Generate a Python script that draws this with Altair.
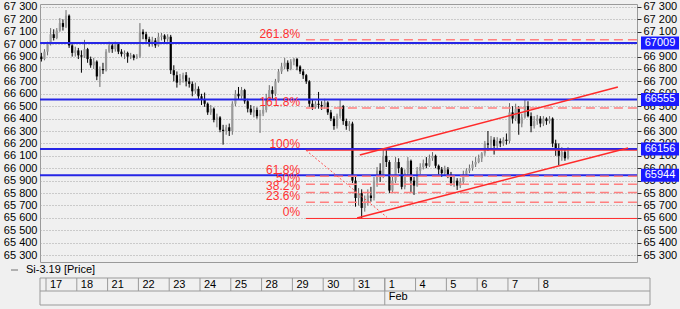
import altair as alt
import pandas as pd

# ---------------- data ----------------
day_labels = ["17", "18", "21", "22", "23", "24", "25", "28", "29", "30", "31",
              "1", "4", "5", "6", "7", "8"]
month_label = "Feb"
month_start_day = 11
bars_per_day = 10
pre_slots = [-0.15, -0.05]

open_ = [
    66900, 66880,
    66940, 67000, 67080, 67050, 67110, 67170, 67140, 67230, 66990, 66930,
    66950, 66910, 66900, 66960, 66880, 66830, 66860, 66740, 66800, 66790,
    66940, 66990, 66960, 67000, 66940, 66920, 66930, 66900, 66910, 66890,
    66900, 67100, 67080, 67040, 67010, 67030, 66990, 67060, 67070, 67040,
    67060, 66790, 66750, 66690, 66720, 66750, 66700, 66680, 66620, 66640,
    66580, 66550, 66520, 66450, 66480, 66390, 66410, 66310, 66300, 66330,
    66300, 66520, 66600, 66580, 66630, 66540, 66480, 66450, 66470, 66420,
    66440, 66470, 66560, 66630, 66600, 66700, 66780, 66820, 66850, 66800,
    66860, 66880, 66820, 66780, 66750, 66700, 66520, 66490, 66520, 66510,
    66500, 66530, 66450, 66400, 66340, 66420, 66500, 66380, 66340, 66360,
    65900, 65760, 65800, 65680, 65720, 65780, 65760, 65900, 65980, 65930,
    66100, 66050, 65820, 65900, 66050, 66000, 65850, 65960, 66060, 65900,
    65860, 65980, 66010, 66040, 66020, 66080, 66100, 66020, 65990, 65960,
    65990, 65950, 65880, 65900, 65860, 65890, 65950, 65980, 66000, 66030,
    66050, 66080, 66120, 66200, 66190, 66230, 66180, 66220, 66200, 66230,
    66220, 66450, 66400, 66480, 66360, 66410, 66500, 66420, 66340, 66380,
    66400, 66360, 66400, 66380, 66400, 66200, 66150, 66100, 66130, 66080,
]
close = [
    66880, 66940,
    67000, 67080, 67050, 67110, 67170, 67140, 67230, 66990, 66930, 66950,
    66910, 66900, 66960, 66880, 66830, 66860, 66740, 66800, 66790, 66940,
    66990, 66960, 67000, 66940, 66920, 66930, 66900, 66910, 66890, 66900,
    67100, 67080, 67040, 67010, 67030, 66990, 67060, 67070, 67040, 67060,
    66790, 66750, 66690, 66720, 66750, 66700, 66680, 66620, 66640, 66580,
    66550, 66520, 66450, 66480, 66390, 66410, 66310, 66300, 66330, 66300,
    66520, 66600, 66580, 66630, 66540, 66480, 66450, 66470, 66420, 66440,
    66470, 66560, 66630, 66600, 66700, 66780, 66820, 66850, 66800, 66860,
    66880, 66820, 66780, 66750, 66700, 66520, 66490, 66520, 66510, 66500,
    66530, 66450, 66400, 66340, 66420, 66500, 66380, 66340, 66360, 65900,
    65760, 65800, 65680, 65720, 65780, 65760, 65900, 65980, 65930, 66100,
    66050, 65820, 65900, 66050, 66000, 65850, 65960, 66060, 65900, 65860,
    65980, 66010, 66040, 66020, 66080, 66100, 66020, 65990, 65960, 65990,
    65950, 65880, 65900, 65860, 65890, 65950, 65980, 66000, 66030, 66050,
    66080, 66120, 66200, 66190, 66230, 66180, 66220, 66200, 66230, 66220,
    66450, 66400, 66480, 66360, 66410, 66500, 66420, 66340, 66380, 66400,
    66360, 66400, 66380, 66400, 66200, 66150, 66100, 66130, 66080, 66140,
]
high = [
    66930, 66960,
    67020, 67130, 67120, 67130, 67210, 67200, 67275, 67240, 67000, 66980,
    66970, 66950, 67035, 66970, 66900, 66890, 66870, 66820, 66850, 66960,
    67020, 67010, 67020, 67010, 66960, 66950, 66940, 66930, 66920, 66920,
    67170, 67120, 67100, 67060, 67060, 67050, 67090, 67090, 67080, 67080,
    67075, 66830, 66780, 66760, 66770, 66775, 66730, 66700, 66690, 66660,
    66600, 66610, 66530, 66510, 66490, 66440, 66420, 66350, 66350, 66360,
    66540, 66630, 66655, 66655, 66640, 66560, 66510, 66500, 66490, 66470,
    66500, 66600, 66670, 66660, 66720, 66800, 66850, 66890, 66870, 66880,
    66890, 66890, 66830, 66800, 66760, 66710, 66550, 66540, 66615, 66540,
    66560, 66540, 66470, 66420, 66440, 66550, 66510, 66400, 66380, 66375,
    65930, 65840, 65830, 65780, 65830, 65850, 65930, 66010, 66040, 66155,
    66150, 66065, 65940, 66090, 66080, 66010, 65990, 66090, 66070, 65930,
    66010, 66040, 66070, 66090, 66110, 66130, 66110, 66030, 66010, 66020,
    66010, 65970, 65940, 65920, 65920, 65980, 66000, 66030, 66060, 66090,
    66110, 66130, 66220, 66300, 66260, 66250, 66250, 66240, 66250, 66280,
    66525, 66500, 66520, 66500, 66440, 66550, 66540, 66450, 66420, 66430,
    66420, 66420, 66410, 66420, 66410, 66230, 66200, 66170, 66150, 66170,
]
low = [
    66860, 66870,
    66910, 66990, 67030, 67040, 67100, 67110, 67130, 66970, 66900, 66900,
    66880, 66770, 66890, 66850, 66810, 66800, 66710, 66655, 66760, 66780,
    66930, 66930, 66940, 66920, 66900, 66880, 66850, 66880, 66870, 66880,
    66890, 67040, 67020, 66980, 66980, 66970, 66980, 67030, 67010, 67020,
    66760, 66700, 66650, 66670, 66690, 66660, 66650, 66580, 66600, 66550,
    66510, 66495, 66430, 66430, 66370, 66330, 66290, 66190, 66270, 66260,
    66270, 66500, 66550, 66560, 66520, 66450, 66430, 66410, 66400, 66285,
    66420, 66450, 66540, 66560, 66580, 66690, 66760, 66800, 66780, 66790,
    66830, 66790, 66760, 66720, 66680, 66495, 66470, 66480, 66480, 66470,
    66480, 66430, 66380, 66310, 66320, 66400, 66350, 66310, 66300, 65880,
    65690, 65700, 65595, 65650, 65700, 65730, 65740, 65850, 65890, 65920,
    66010, 65800, 65800, 65880, 65960, 65830, 65830, 65940, 65800, 65785,
    65850, 65950, 65990, 66000, 66010, 66060, 66000, 65950, 65930, 65940,
    65920, 65860, 65850, 65825, 65840, 65870, 65930, 65960, 65980, 66010,
    66040, 66050, 66100, 66140, 66160, 66110, 66160, 66170, 66180, 66190,
    66200, 66360, 66380, 66270, 66330, 66400, 66410, 66290, 66320, 66350,
    66330, 66340, 66350, 66360, 66170, 66100, 66025, 66060, 66060, 66070,
]

levels = [67009, 66555, 66156, 65944]
level_text = ["67009", "66555", "66156", "65944"]

fib_names = ["0%", "23.6%", "38.2%", "50%", "61.8%", "100%", "161.8%", "261.8%"]
fib_prices = [65595, 65725, 65805, 65870, 65935, 66145, 66485, 67035]
fib_solid = [True, False, False, False, False, True, False, False]
fib_start = 8.44
fib_label_x = 8.25
fib_diag_x = [8.44, 11.07]
fib_diag_y = [66145, 65605]

chan_up_x = [10.19, 18.57]
chan_up_y = [66106, 66655]
chan_lo_x = [10.10, 18.90]
chan_lo_y = [65598, 66163]

y_ticks = list(range(65300, 67301, 100))
right_ticks = [v for v in y_ticks if v != 67000]   # 67 000 sits fully under the 67009 tag
legend_label = "Si-3.19 [Price]"

# ---------------- build ----------------
W, H = 597, 258
XS = alt.Scale(domain=[-0.195, 19.19], nice=False, zero=False)
YS = alt.Scale(domain=[65244, 67324], nice=False, zero=False)
FONT = "Liberation Sans"
GRID = "#a4a4a4"
BLUE = "#2626e6"
RED = "#ff2a2a"
PINK = "#ff8080"
LBL = "replace(format(datum.value, ','), ',', ' ')"

xs = list(pre_slots) + [d + (k + 0.5) / bars_per_day
                         for d in range(len(day_labels)) for k in range(bars_per_day)]
df = pd.DataFrame({"x": xs, "open": open_, "high": high, "low": low, "close": close})
up = "datum.close >= datum.open"

wick = alt.Chart(df).mark_rule(strokeWidth=1).encode(
    x=alt.X("x:Q", scale=XS, axis=alt.Axis(values=list(range(len(day_labels))), grid=True,
                                            gridColor=GRID, gridDash=[2, 2], labels=False,
                                            ticks=False, domain=False, title=None)),
    y=alt.Y("low:Q", scale=YS, axis=alt.Axis(values=y_ticks, grid=True, gridColor=GRID,
                                              gridDash=[1, 2], labelExpr=LBL, labelFont=FONT,
                                              labelFontSize=11, labelColor="black", ticks=False,
                                              domain=False, labelPadding=3, title=None)),
    y2="high:Q",
    color=alt.condition(up, alt.value("#6a6a6a"), alt.value("#000000")),
)
body = alt.Chart(df).mark_rule(strokeWidth=2.2).encode(
    x=alt.X("x:Q", scale=XS, axis=None),
    y=alt.Y("open:Q", scale=YS, axis=None),
    y2="close:Q",
    color=alt.condition(up, alt.value("#9a9a9a"), alt.value("#000000")),
)

lv = pd.DataFrame({"price": levels, "txt": level_text})
blue_lines = alt.Chart(lv).mark_rule(color=BLUE, strokeWidth=2).encode(
    x=alt.value(0), x2=alt.value(W),
    y=alt.Y("price:Q", scale=YS, axis=alt.Axis(orient="right", values=right_ticks, grid=False,
                                                labelExpr=LBL, labelFont=FONT, labelFontSize=11,
                                                labelColor="black", tickSize=4, tickColor="#333",
                                                domain=False, labelPadding=2, title=None)),
)
boxes = alt.Chart(lv).mark_rule(color="#1a1aff", strokeWidth=13, strokeCap="butt").encode(
    x=alt.value(601), x2=alt.value(639), y=alt.Y("price:Q", scale=YS, axis=None))
box_text = alt.Chart(lv).mark_text(color="white", font=FONT, fontSize=11, align="center",
                                   baseline="middle").encode(
    x=alt.value(620), y=alt.Y("price:Q", scale=YS, axis=None), text="txt:N")

fib = pd.DataFrame({"name": fib_names, "price": fib_prices, "solid": fib_solid,
                    "x0": [fib_start] * len(fib_names), "xl": [fib_label_x] * len(fib_names)})
fib_solid_l = alt.Chart(fib).transform_filter("datum.solid").mark_rule(
    color=RED, strokeWidth=1).encode(
    x=alt.X("x0:Q", scale=XS, axis=None), x2=alt.value(W), y=alt.Y("price:Q", scale=YS, axis=None))
fib_dash_l = alt.Chart(fib).transform_filter("!datum.solid").mark_rule(
    color=PINK, strokeWidth=1.5, strokeDash=[9, 5]).encode(
    x=alt.X("x0:Q", scale=XS, axis=None), x2=alt.value(W), y=alt.Y("price:Q", scale=YS, axis=None))
fib_txt = alt.Chart(fib).mark_text(color="#ff3030", font=FONT, fontSize=12, align="right",
                                   baseline="bottom", dy=1).encode(
    x=alt.X("xl:Q", scale=XS, axis=None), y=alt.Y("price:Q", scale=YS, axis=None), text="name:N")

diag = pd.DataFrame({"x": fib_diag_x, "y": fib_diag_y})
diag_l = alt.Chart(diag).mark_line(color="#ff5050", strokeWidth=1, strokeDash=[2, 2]).encode(
    x=alt.X("x:Q", scale=XS, axis=None), y=alt.Y("y:Q", scale=YS, axis=None))

chan = pd.DataFrame({"x": chan_up_x + chan_lo_x, "y": chan_up_y + chan_lo_y,
                     "g": ["up", "up", "lo", "lo"]})
chan_l = alt.Chart(chan).mark_line(color=RED, strokeWidth=1.5).encode(
    x=alt.X("x:Q", scale=XS, axis=None), y=alt.Y("y:Q", scale=YS, axis=None), detail="g:N")

# date strip below the plot
days = pd.DataFrame({"d": list(range(len(day_labels))), "lab": day_labels})
date_txt = alt.Chart(days).mark_text(font=FONT, fontSize=11, align="left", baseline="middle",
                                     dx=4, color="black").encode(
    x=alt.X("d:Q", scale=XS, axis=None), y=alt.value(281), text="lab:N")
date_sep = alt.Chart(days).mark_rule(color="#9a9a9a").encode(
    x=alt.X("d:Q", scale=XS, axis=None), y=alt.value(274), y2=alt.value(287))
month = pd.DataFrame({"d": [month_start_day], "lab": [month_label]})
month_sep = alt.Chart(month).mark_rule(color="#9a9a9a").encode(
    x=alt.X("d:Q", scale=XS, axis=None), y=alt.value(274), y2=alt.value(301))
month_txt = alt.Chart(month).mark_text(font=FONT, fontSize=11, align="left", baseline="middle",
                                       dx=4, color="black").encode(
    x=alt.X("d:Q", scale=XS, axis=None), y=alt.value(293), text="lab:N")
hl = pd.DataFrame({"yy": [274, 287, 301]})
strip_h = alt.Chart(hl).mark_rule(color="#9a9a9a").encode(
    x=alt.value(0), x2=alt.value(610), y=alt.Y("yy:Q", scale=None, axis=None))
vl = pd.DataFrame({"xx": [0, 610]})
strip_v = alt.Chart(vl).mark_rule(color="#9a9a9a").encode(
    x=alt.X("xx:Q", scale=None, axis=None), y=alt.value(274), y2=alt.value(301))

leg = pd.DataFrame({"t": [legend_label]})
leg_dash = alt.Chart(leg).mark_rule(color="#707070", strokeWidth=1).encode(
    x=alt.value(-29), x2=alt.value(-22), y=alt.value(266))
leg_txt = alt.Chart(leg).mark_text(font=FONT, fontSize=11, align="left", baseline="middle",
                                   color="black").encode(
    x=alt.value(-14), y=alt.value(266), text="t:N")

chart = alt.layer(
    wick, body, blue_lines, fib_solid_l, fib_dash_l, fib_txt, diag_l, chan_l,
    boxes, box_text, date_sep, month_sep, strip_h, strip_v, date_txt, month_txt,
    leg_dash, leg_txt,
).resolve_axis(y="independent").properties(
    width=W, height=H,
    padding={"left": 40, "top": 4, "right": 43, "bottom": 47},
    autosize=alt.AutoSizeParams(type="none"),
    background="#f0f0f0",
).configure_view(stroke="#9a9a9a")

chart.save("out.html", embed_options={"renderer": "svg", "actions": False})
